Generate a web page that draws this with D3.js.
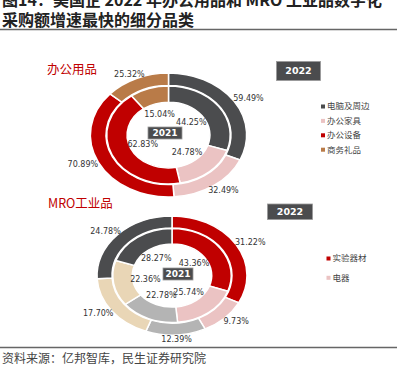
<!DOCTYPE html>
<html><head><meta charset="utf-8">
<script src="https://cdn.jsdelivr.net/npm/d3@7"></script>
<style>
html,body{margin:0;padding:0;background:#fff;}
svg{display:block;}
</style>
</head><body>
<svg id="chart" width="397" height="382"></svg>
<script>
// ---- data ----
const titleLines = ["图14：美国企 2022 年办公用品和 MRO 工业品数字化", "采购额增速最快的细分品类"];
const sourceText = "资料来源：亿邦智库，民生证券研究院";

const officeTitle = "办公用品";
const officeCats = ["电脑及周边", "办公家具", "办公设备", "商务礼品"];
const office2022 = [59.49, 32.49, 70.89, 25.32];
const office2021 = [44.25, 24.78, 62.83, 15.04];
const officeColors = ["#4b4c4e", "#ebc3c3", "#c00000", "#b97b48"];

const mroTitle = "MRO工业品";
const mroCats = ["实验器材", "电器", "其他1", "其他2", "其他3"];
const mroLegendCats = ["实验器材", "电器"];
const mro2022 = [31.22, 9.73, 12.39, 17.70, 24.78];
const mro2021 = [43.36, 25.74, 22.78, 22.36, 28.27];
const mroColors = ["#c00000", "#ebc3c3", "#b4b4b4", "#e9d6b6", "#4b4c4e"];

const yearOuter = "2022", yearInner = "2021";

// ---- drawing ----
const svg = d3.select("#chart");
const txtFont = "'DejaVu Sans', sans-serif";
const cjkFont = "'Noto Sans CJK SC', sans-serif";

// title
svg.append("text").attr("x", 2).attr("y", 6)
  .attr("font-family", cjkFont).attr("font-weight", "bold").attr("font-size", 16)
  .attr("fill", "#222").text(titleLines[0]);
svg.append("text").attr("x", 2).attr("y", 26)
  .attr("font-family", cjkFont).attr("font-weight", "bold").attr("font-size", 16)
  .attr("fill", "#222").text(titleLines[1]);
svg.append("line").attr("x1", 0).attr("x2", 397).attr("y1", 29.5).attr("y2", 29.5)
  .attr("stroke", "#666").attr("stroke-width", 1.6);

// footer
svg.append("line").attr("x1", 0).attr("x2", 397).attr("y1", 347.5).attr("y2", 347.5)
  .attr("stroke", "#666").attr("stroke-width", 1.6);
svg.append("text").attr("x", 2).attr("y", 363)
  .attr("font-family", cjkFont).attr("font-size", 12)
  .attr("fill", "#444").text(sourceText);

const sx = 1.26;
const pie = d3.pie().sort(null).value(d => d);

function donut(cfg) {
  const R = cfg.R;
  const outerArc = d3.arc().innerRadius(R * 0.80).outerRadius(R);
  const innerArc = d3.arc().innerRadius(R * 0.53).outerRadius(R * 0.79);
  const g = svg.append("g").attr("transform", `translate(${cfg.cx},${cfg.cy}) scale(${sx},1)`);
  const lg = svg.append("g").attr("transform", `translate(${cfg.cx},${cfg.cy})`);

  const rings = [
    {vals: cfg.outer, arc: outerArc, lrx: R * 1.54, lry: R * 1.08},
    {vals: cfg.inner, arc: innerArc, lrx: R * 0.36 * sx, lry: R * 0.36}
  ];
  rings.forEach(ring => {
    const arcs = pie(ring.vals);
    g.selectAll(null).data(arcs).enter().append("path")
      .attr("d", ring.arc)
      .attr("fill", (d, i) => cfg.colors[i])
      .attr("stroke", "#fff").attr("stroke-width", 1.5)
      .attr("vector-effect", "non-scaling-stroke");
    lg.selectAll(null).data(arcs).enter().append("text")
      .attr("x", d => ring.lrx * Math.sin((d.startAngle + d.endAngle) / 2))
      .attr("y", d => -ring.lry * Math.cos((d.startAngle + d.endAngle) / 2))
      .attr("dy", "0.35em")
      .attr("text-anchor", "middle")
      .attr("font-family", txtFont).attr("font-size", 8)
      .attr("fill", "#333")
      .text(d => d.data.toFixed(2) + "%");
  });

  // section title
  svg.append("text").attr("x", cfg.titleX).attr("y", cfg.titleY)
    .attr("font-family", cjkFont).attr("font-size", 12.5)
    .attr("fill", "#c00000").text(cfg.title);

  // year tags
  const tag = (x, y, w, h, t, fs) => {
    svg.append("rect").attr("x", x).attr("y", y).attr("width", w).attr("height", h)
      .attr("fill", "#4b4c4e").attr("stroke", "#9a9a9a").attr("stroke-width", 0.8);
    svg.append("text").attr("x", x + w / 2).attr("y", y + h / 2).attr("dy", "0.36em")
      .attr("text-anchor", "middle").attr("font-family", txtFont)
      .attr("font-weight", "bold").attr("font-size", fs).attr("fill", "#fff").text(t);
  };
  tag(cfg.tag21[0], cfg.tag21[1], cfg.tag21[2], 12, yearInner, 9);
  tag(cfg.tag22[0], cfg.tag22[1], cfg.tag22[2], cfg.tag22[3], yearOuter, 9.5);

  // legend
  const leg = svg.append("g");
  cfg.legend.forEach((name, i) => {
    const ci = cfg.cats.indexOf(name);
    const y = cfg.legY + i * cfg.legStep;
    leg.append("rect").attr("x", cfg.legX - 2).attr("y", y - 2).attr("width", 4).attr("height", 4)
      .attr("fill", cfg.colors[ci]);
    leg.append("text").attr("x", cfg.legX + 4).attr("y", y).attr("dy", "0.35em")
      .attr("font-family", cjkFont).attr("font-size", 8.5).attr("fill", "#444").text(name);
  });
}

donut({
  cx: 168.5, cy: 135, R: 62,
  outer: office2022, inner: office2021, colors: officeColors, cats: officeCats,
  title: officeTitle, titleX: 47, titleY: 74,
  tag21: [148, 127, 34], tag22: [276.5, 61.5, 44, 19],
  legend: officeCats, legX: 323, legY: 106.5, legStep: 14.4
});

donut({
  cx: 172, cy: 275.5, R: 59.5,
  outer: mro2022, inner: mro2021, colors: mroColors, cats: mroCats,
  title: mroTitle, titleX: 48, titleY: 208,
  tag21: [163, 268, 30], tag22: [267.5, 204, 45, 15.5],
  legend: mroLegendCats, legX: 328.5, legY: 258.5, legStep: 19.3
});
</script>
</body></html>
